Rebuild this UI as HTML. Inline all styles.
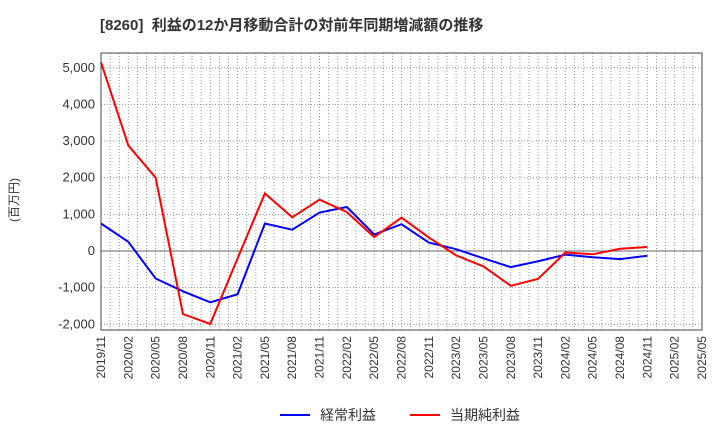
<!DOCTYPE html>
<html><head><meta charset="utf-8"><style>
body{margin:0;background:#fff;}
svg text{font-family:"Liberation Sans","Noto Sans CJK JP",sans-serif;}
</style></head><body>
<svg id="c" width="720" height="440" xmlns="http://www.w3.org/2000/svg">
<text x="100" y="30" font-size="15" font-weight="bold" fill="#333" xml:space="preserve">[8260]  利益の12か月移動合計の対前年同期増減額の推移</text>
<text transform="translate(18,200) rotate(-90)" font-size="12" fill="#333" text-anchor="middle">(百万円)</text>
<g id="grid"></g><g id="series"></g><g id="axes"></g>
<g>
<line x1="280" y1="415" x2="310" y2="415" stroke="#0000ff" stroke-width="2"/>
<text x="320" y="420" font-size="14" fill="#333">経常利益</text>
<line x1="410" y1="415" x2="440" y2="415" stroke="#ff0000" stroke-width="2"/>
<text x="450" y="420" font-size="14" fill="#333">当期純利益</text>
</g>
</svg>
<script>
const categories=["2019/11","2020/02","2020/05","2020/08","2020/11","2021/02","2021/05","2021/08","2021/11","2022/02","2022/05","2022/08","2022/11","2023/02","2023/05","2023/08","2023/11","2024/02","2024/05","2024/08","2024/11","2025/02","2025/05"];
const keijo=[750,250,-750,-1100,-1400,-1180,750,580,1050,1200,450,730,230,50,-200,-440,-280,-100,-170,-220,-130];
const junri=[5150,2880,2000,-1720,-1990,-200,1570,920,1400,1060,380,910,370,-120,-420,-950,-760,-40,-90,60,110];
const yTicks=[-2000,-1000,0,1000,2000,3000,4000,5000];
const L=101,R=702,T=53,B=330;
const NS="http://www.w3.org/2000/svg";
const step=(R-L)/(categories.length-1);
const x=i=>L+i*step;
const y=v=>251-v*0.03665;
function mk(t,a,p){const e=document.createElementNS(NS,t);for(const k in a)e.setAttribute(k,a[k]);p.appendChild(e);return e;}
const g=document.getElementById('grid'),ax=document.getElementById('axes'),s=document.getElementById('series');
for(let m=0;m<=66;m++){const xx=L+m*step/3;const l=mk('line',{x1:xx,x2:xx,y1:T,y2:B,stroke:'#999','stroke-dasharray':'1,2'},g);

}
yTicks.forEach(v=>{const l=mk('line',{x1:L,x2:R,y1:y(v),y2:y(v),stroke:v===0?'#666':'#999','stroke-dasharray':v===0?'':'1,2'},g);


const t=mk('text',{x:L-6,y:y(v)+4,'font-size':13,fill:'#333','text-anchor':'end'},ax);t.textContent=v.toLocaleString('en-US');

});
categories.forEach((c,i)=>{const t=mk('text',{transform:`translate(${x(i)+4},${B+6}) rotate(-90)`,'font-size':12,fill:'#333','text-anchor':'end'},ax);t.textContent=c;

});
const fr=mk('rect',{x:L,y:T,width:R-L,height:B-T,fill:'none',stroke:'#444','stroke-width':1},ax);


function line(d,col,name){const p=mk('polyline',{points:d.map((v,i)=>x(i)+','+y(v)).join(' '),fill:'none',stroke:col,'stroke-width':2},s);

}
line(keijo,'#0000ff','keijo-line');
line(junri,'#ff0000','junri-line');
</script>
</body></html>
